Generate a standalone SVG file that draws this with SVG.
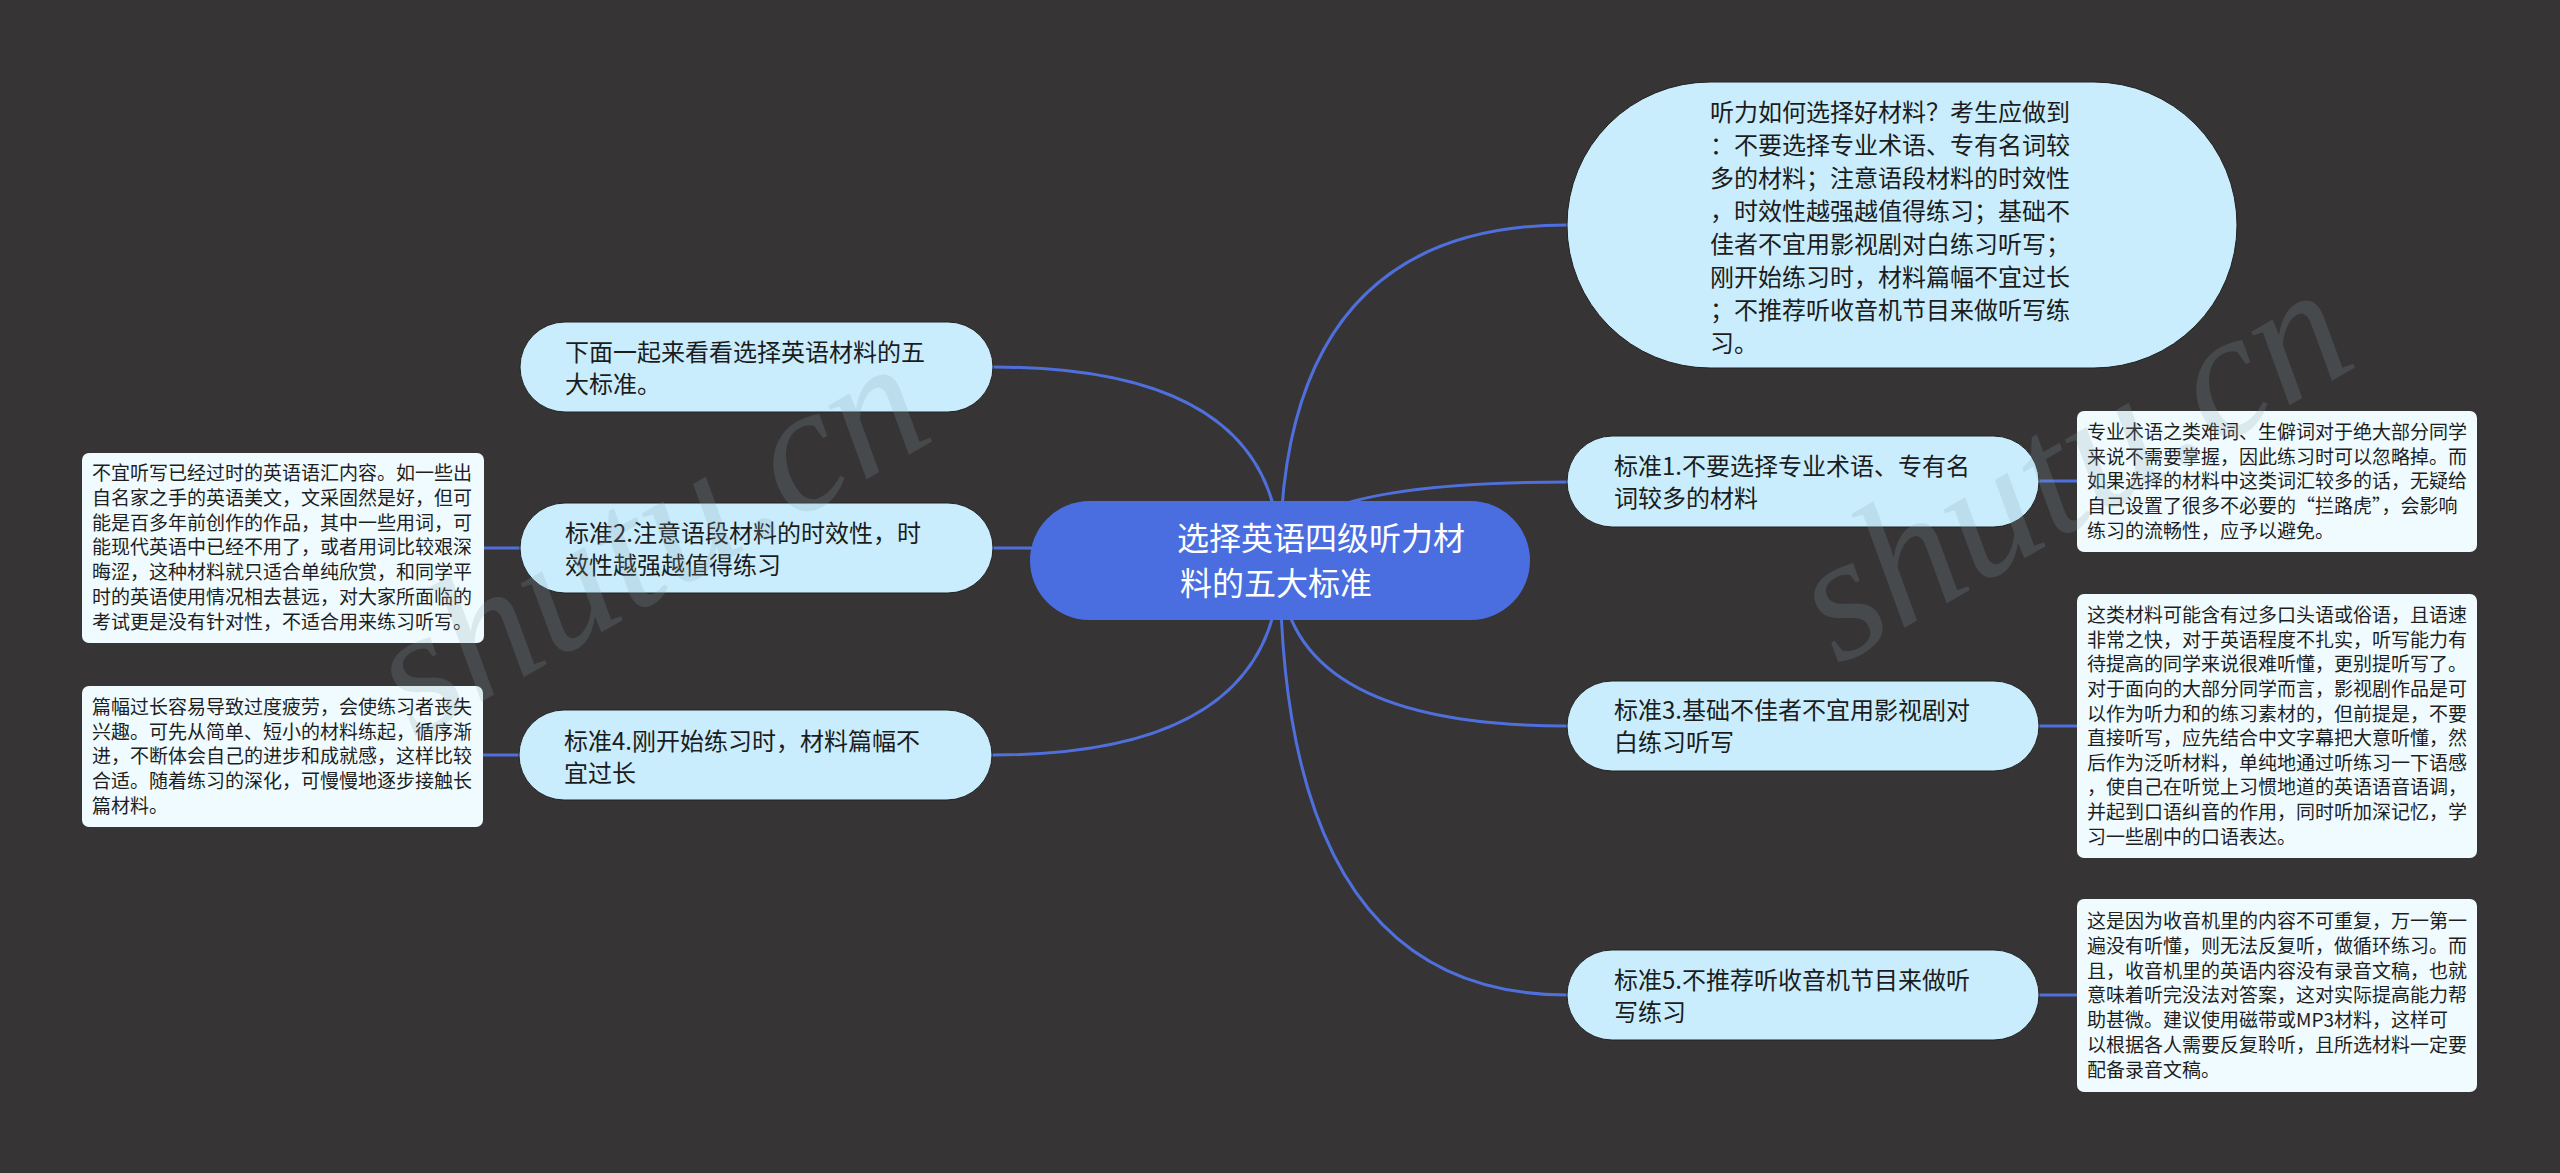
<svg xmlns="http://www.w3.org/2000/svg" width="2560" height="1173" viewBox="0 0 2560 1173">
<style>
.bg{fill:#363435}
.conn{fill:none;stroke:#4f6fdc;stroke-width:3;stroke-linecap:round}
.root{fill:#4a6ee0}
.topic{fill:#c9edfc;stroke:#222;stroke-width:1}
.note{fill:#effbfe}
.rt{font-family:"Noto Sans CJK SC","Noto Sans",sans-serif;font-size:32px;fill:#ffffff}
.tt{font-family:"Noto Sans CJK SC","Noto Sans",sans-serif;font-size:24px;fill:#1c1c1c}
.nt{font-family:"Noto Sans CJK SC","Noto Sans",sans-serif;font-size:19px;fill:#1e1e1e}
.wm{font-family:"Liberation Serif",serif;font-style:italic;font-size:180px;fill:#8aa3b0;opacity:0.2}
</style>
<rect class="bg" x="0" y="0" width="2560" height="1173"/>
<g id="connectors">
<path class="conn" d="M1280,560 Q1280,225 1567,225"/>
<path class="conn" d="M1280,560 Q1280,482 1567,482"/>
<path class="conn" d="M1280,560 Q1280,726 1567,726"/>
<path class="conn" d="M1280,560 Q1280,995 1567,995"/>
<path class="conn" d="M1280,560 Q1280,367 993,367"/>
<path class="conn" d="M1280,560 Q1280,548 993,548"/>
<path class="conn" d="M1280,560 Q1280,755 993,755"/>
<path class="conn" d="M2039,481 L2077,481"/>
<path class="conn" d="M2039,726 L2077,726"/>
<path class="conn" d="M2039,995 L2077,995"/>
<path class="conn" d="M520,548 L484,548"/>
<path class="conn" d="M519,755 L483,755"/>
</g>
<g id="root">
<rect class="root" x="1030" y="501" width="500" height="119" rx="59.5"/>
<text class="rt"><tspan x="1177" y="550">选择英语四级听力材</tspan><tspan x="1180" y="595">料的五大标准</tspan></text>
</g>
<g id="summary">
<rect class="topic" x="1567" y="82" width="670" height="286" rx="143"/>
<text class="tt"><tspan x="1710" y="121">听力如何选择好材料？考生应做到</tspan><tspan x="1710" y="154">：不要选择专业术语、专有名词较</tspan><tspan x="1710" y="187">多的材料；注意语段材料的时效性</tspan><tspan x="1710" y="220">，时效性越强越值得练习；基础不</tspan><tspan x="1710" y="253">佳者不宜用影视剧对白练习听写；</tspan><tspan x="1710" y="286">刚开始练习时，材料篇幅不宜过长</tspan><tspan x="1710" y="319">；不推荐听收音机节目来做听写练</tspan><tspan x="1710" y="352">习。</tspan></text>
</g>
<g id="intro">
<rect class="topic" x="520" y="322" width="473" height="90" rx="45"/>
<text class="tt"><tspan x="565" y="361">下面一起来看看选择英语材料的五</tspan><tspan x="565" y="393">大标准。</tspan></text>
</g>
<g id="std2">
<rect class="topic" x="520" y="503" width="473" height="90" rx="45"/>
<text class="tt"><tspan x="565" y="542">标准2.注意语段材料的时效性，时</tspan><tspan x="565" y="574">效性越强越值得练习</tspan></text>
</g>
<g id="std4">
<rect class="topic" x="519" y="710" width="473" height="90" rx="45"/>
<text class="tt"><tspan x="564" y="750">标准4.刚开始练习时，材料篇幅不</tspan><tspan x="564" y="782">宜过长</tspan></text>
</g>
<g id="std1">
<rect class="topic" x="1567" y="436" width="472" height="91" rx="45.5"/>
<text class="tt"><tspan x="1614" y="475">标准1.不要选择专业术语、专有名</tspan><tspan x="1614" y="507">词较多的材料</tspan></text>
</g>
<g id="std3">
<rect class="topic" x="1567" y="681" width="472" height="90" rx="45"/>
<text class="tt"><tspan x="1614" y="719">标准3.基础不佳者不宜用影视剧对</tspan><tspan x="1614" y="751">白练习听写</tspan></text>
</g>
<g id="std5">
<rect class="topic" x="1567" y="950" width="472" height="90" rx="45"/>
<text class="tt"><tspan x="1614" y="989">标准5.不推荐听收音机节目来做听</tspan><tspan x="1614" y="1021">写练习</tspan></text>
</g>
<g id="note2">
<rect class="note" x="82" y="453" width="402" height="190" rx="7"/>
<text class="nt"><tspan x="92" y="480">不宜听写已经过时的英语语汇内容。如一些出</tspan><tspan x="92" y="505">自名家之手的英语美文，文采固然是好，但可</tspan><tspan x="92" y="530">能是百多年前创作的作品，其中一些用词，可</tspan><tspan x="92" y="554">能现代英语中已经不用了，或者用词比较艰深</tspan><tspan x="92" y="579">晦涩，这种材料就只适合单纯欣赏，和同学平</tspan><tspan x="92" y="604">时的英语使用情况相去甚远，对大家所面临的</tspan><tspan x="92" y="629">考试更是没有针对性，不适合用来练习听写。</tspan></text>
</g>
<g id="note4">
<rect class="note" x="82" y="686" width="401" height="141" rx="7"/>
<text class="nt"><tspan x="92" y="714">篇幅过长容易导致过度疲劳，会使练习者丧失</tspan><tspan x="92" y="739">兴趣。可先从简单、短小的材料练起，循序渐</tspan><tspan x="92" y="763">进，不断体会自己的进步和成就感，这样比较</tspan><tspan x="92" y="788">合适。随着练习的深化，可慢慢地逐步接触长</tspan><tspan x="92" y="813">篇材料。</tspan></text>
</g>
<g id="note1">
<rect class="note" x="2077" y="411" width="400" height="141" rx="7"/>
<text class="nt"><tspan x="2087" y="439">专业术语之类难词、生僻词对于绝大部分同学</tspan><tspan x="2087" y="464">来说不需要掌握，因此练习时可以忽略掉。而</tspan><tspan x="2087" y="488">如果选择的材料中这类词汇较多的话，无疑给</tspan><tspan x="2087" y="513">自己设置了很多不必要的“拦路虎”，会影响</tspan><tspan x="2087" y="538">练习的流畅性，应予以避免。</tspan></text>
</g>
<g id="note3">
<rect class="note" x="2077" y="594" width="400" height="264" rx="7"/>
<text class="nt"><tspan x="2087" y="622">这类材料可能含有过多口头语或俗语，且语速</tspan><tspan x="2087" y="647">非常之快，对于英语程度不扎实，听写能力有</tspan><tspan x="2087" y="671">待提高的同学来说很难听懂，更别提听写了。</tspan><tspan x="2087" y="696">对于面向的大部分同学而言，影视剧作品是可</tspan><tspan x="2087" y="721">以作为听力和的练习素材的，但前提是，不要</tspan><tspan x="2087" y="745">直接听写，应先结合中文字幕把大意听懂，然</tspan><tspan x="2087" y="770">后作为泛听材料，单纯地通过听练习一下语感</tspan><tspan x="2087" y="794">，使自己在听觉上习惯地道的英语语音语调，</tspan><tspan x="2087" y="819">并起到口语纠音的作用，同时听加深记忆，学</tspan><tspan x="2087" y="844">习一些剧中的口语表达。</tspan></text>
</g>
<g id="note5">
<rect class="note" x="2077" y="899" width="400" height="193" rx="7"/>
<text class="nt"><tspan x="2087" y="928">这是因为收音机里的内容不可重复，万一第一</tspan><tspan x="2087" y="953">遍没有听懂，则无法反复听，做循环练习。而</tspan><tspan x="2087" y="978">且，收音机里的英语内容没有录音文稿，也就</tspan><tspan x="2087" y="1002">意味着听完没法对答案，这对实际提高能力帮</tspan><tspan x="2087" y="1027">助甚微。建议使用磁带或MP3材料，这样可</tspan><tspan x="2087" y="1052">以根据各人需要反复聆听，且所选材料一定要</tspan><tspan x="2087" y="1077">配备录音文稿。</tspan></text>
</g>
<g id="watermark">
<text class="wm" transform="translate(415,740) rotate(-30)">shutu.cn</text>
<text class="wm" transform="translate(1838,666) rotate(-30)">shutu.cn</text>
</g>
</svg>
